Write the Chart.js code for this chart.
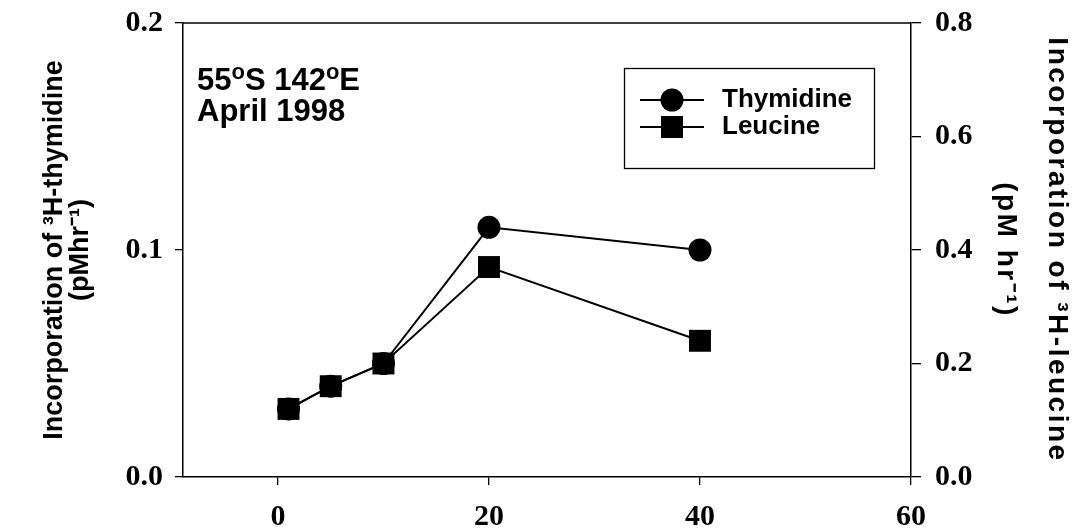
<!DOCTYPE html>
<html>
<head>
<meta charset="utf-8">
<script src="https://cdn.jsdelivr.net/npm/chart.js@4.4.1/dist/chart.umd.min.js"></script>
<style>
  html, body { margin: 0; padding: 0; background: #ffffff; }
  #wrap { width: 1091px; height: 532px; position: relative; }
</style>
</head>
<body>
<div id="wrap"><canvas id="c"></canvas></div>
<script>
// Sampling depths (m) and uptake rates
const depths = [1, 5, 10, 20, 40];
const thymidine = [0.03, 0.04, 0.05, 0.11, 0.10];   // pM hr-1, left axis
const leucine = [0.12, 0.16, 0.20, 0.37, 0.24];     // pM hr-1, right axis

// Tick positions
const xTicks = [0, 20, 40, 60];
const yLeftTicks = [0.0, 0.1, 0.2];
const yRightTicks = [0.0, 0.2, 0.4, 0.6, 0.8];

const SANS = "'Liberation Sans', Arial, Helvetica, sans-serif";
const SERIF = "'Liberation Serif', 'Times New Roman', serif";
const INK = '#000000';

// Legend sample: a short line with the marker in its middle
function legendSample(kind) {
  const c = document.createElement('canvas');
  c.width = 66; c.height = 26;
  const g = c.getContext('2d');
  g.strokeStyle = INK; g.lineWidth = 2;
  g.beginPath(); g.moveTo(1, 13); g.lineTo(65, 13); g.stroke();
  g.fillStyle = INK;
  if (kind === 'circle') {
    g.beginPath(); g.arc(33, 13, 11.5, 0, Math.PI * 2); g.fill();
  } else {
    g.fillRect(22, 2, 22, 22);
  }
  return c;
}
const samples = { circle: legendSample('circle'), rect: legendSample('rect') };

const toXY = (ys) => depths.map((d, i) => ({ x: d, y: ys[i] }));

// Right-hand title is set with slightly wider letter spacing
function spacedTitle(scale, spacing) {
  if (scale._spacedTitle) return;
  const draw = scale.drawTitle.bind(scale);
  scale.drawTitle = function () {
    const c = this.ctx;
    const prev = c.letterSpacing;
    c.letterSpacing = spacing;
    draw();
    c.letterSpacing = prev || '0px';
  };
  scale._spacedTitle = true;
}

// Vertical scales: the plot box is placed by the layout padding alone
function fixVertical(scale, width) {
  scale.width = width;
  scale.paddingTop = 0;
  scale.paddingBottom = 0;
}

// Frame line across the top of the plot, legend frame and station label
const decorations = {
  id: 'decorations',
  afterLayout(chart) {
    const lg = chart.legend;
    if (!lg) return;
    lg.left = 634; lg.top = 86;
    lg.right = 874; lg.bottom = 170;
    lg.width = lg.right - lg.left; lg.height = lg.bottom - lg.top;
  },
  afterDraw(chart) {
    const ctx = chart.ctx;
    const a = chart.chartArea;
    ctx.save();
    ctx.strokeStyle = INK;
    ctx.lineWidth = 1.5;
    ctx.beginPath();
    ctx.moveTo(a.left, a.top); ctx.lineTo(a.right, a.top);
    ctx.stroke();
    ctx.lineWidth = 1.3;
    ctx.strokeRect(624.5, 68.5, 250, 100);

    // "55°S 142°E" / "April 1998" with raised degree marks
    ctx.fillStyle = INK;
    ctx.textBaseline = 'alphabetic';
    ctx.textAlign = 'left';
    const big = 'bold 31px ' + SANS, sup = 'bold 22px ' + SANS;
    const parts = [['55', 0], ['o', 1], ['S 142', 0], ['o', 1], ['E', 0]];
    let x = 197;
    for (const [t, s] of parts) {
      ctx.font = s ? sup : big;
      ctx.fillText(t, x, s ? 79 : 90);
      x += ctx.measureText(t).width;
    }
    ctx.font = big;
    ctx.fillText('April 1998', 197, 121);
    ctx.restore();
  }
};

new Chart(document.getElementById('c'), {
  type: 'line',
  data: {
    datasets: [
      {
        label: 'Thymidine',
        data: toXY(thymidine),
        yAxisID: 'y',
        borderColor: INK, borderWidth: 2,
        pointStyle: 'circle', pointRadius: 11.5,
        pointBackgroundColor: INK, pointBorderColor: INK, pointBorderWidth: 0,
        order: 1
      },
      {
        label: 'Leucine',
        data: toXY(leucine),
        yAxisID: 'y2',
        borderColor: INK, borderWidth: 2,
        pointStyle: 'rect', pointRadius: 15.5,
        pointBackgroundColor: INK, pointBorderColor: INK, pointBorderWidth: 0,
        order: 0
      }
    ]
  },
  options: {
    responsive: true,
    maintainAspectRatio: false,
    animation: false,
    events: [],
    layout: { padding: { top: 23, left: 0, right: 0, bottom: 0 } },
    plugins: {
      tooltip: { enabled: false },
      legend: {
        display: true,
        position: 'chartArea',
        align: 'start',
        labels: {
          usePointStyle: true,
          pointStyleWidth: 74,
          boxHeight: 26,
          padding: 1,
          color: INK,
          font: { family: SANS, size: 26, weight: 'bold' },
          sort: (a, b) => a.datasetIndex - b.datasetIndex,
          generateLabels(chart) {
            return chart.data.datasets.map((ds, i) => ({
              text: ds.label,
              datasetIndex: i,
              pointStyle: ds.pointStyle === 'circle' ? samples.circle : samples.rect,
              fillStyle: INK, strokeStyle: INK, lineWidth: 0,
              fontColor: INK, hidden: false
            }));
          }
        }
      }
    },
    scales: {
      x: {
        type: 'linear',
        position: 'bottom',
        min: -9, max: 60,
        afterBuildTicks: (s) => { s.ticks = xTicks.map(v => ({ value: v })); },
        afterFit: (s) => { s.height = 55; },
        border: { display: true, color: INK, width: 1.5 },
        grid: { display: true, drawOnChartArea: false, drawTicks: true, tickLength: 8, color: INK, lineWidth: 1.3 },
        ticks: {
          color: INK, padding: 14,
          font: { family: SERIF, size: 30, weight: 'bold' },
          callback: (v) => String(v)
        }
      },
      y: {
        type: 'linear',
        position: 'left',
        min: 0, max: 0.2,
        afterBuildTicks: (s) => { s.ticks = yLeftTicks.map(v => ({ value: v })); },
        afterFit: (s) => { fixVertical(s, 183); },
        border: { display: true, color: INK, width: 1.5 },
        grid: { display: true, drawOnChartArea: false, drawTicks: true, tickLength: 8, color: INK, lineWidth: 1.3 },
        ticks: {
          color: INK, padding: 12,
          font: { family: SERIF, size: 30, weight: 'bold' },
          callback: (v) => Number(v).toFixed(1)
        },
        title: {
          display: true,
          text: ['Incorporation of \u00B3H-thymidine', '(pMhr\u207B\u00B9)'],
          color: INK,
          font: { family: SANS, size: 27, weight: 'bold', lineHeight: 0.95 },
          padding: { top: 42, bottom: 0 }
        }
      },
      y2: {
        type: 'linear',
        position: 'right',
        min: 0, max: 0.8,
        afterBuildTicks: (s) => { s.ticks = yRightTicks.map(v => ({ value: v })); },
        afterFit: (s) => { fixVertical(s, 180); spacedTitle(s, '2.5px'); },
        border: { display: true, color: INK, width: 1.5 },
        grid: { display: true, drawOnChartArea: false, drawTicks: true, tickLength: 10, color: INK, lineWidth: 1.3 },
        ticks: {
          color: INK, padding: 14,
          font: { family: SERIF, size: 30, weight: 'bold' },
          callback: (v) => Number(v).toFixed(1)
        },
        title: {
          display: true,
          text: ['Incorporation of \u00B3H-leucine', '(pM hr\u207B\u00B9)'],
          color: INK,
          font: { family: SANS, size: 28, weight: 'bold', lineHeight: 1.85 },
          padding: { top: 8, bottom: 0 }
        }
      }
    }
  },
  plugins: [decorations]
});
</script>
</body>
</html>
